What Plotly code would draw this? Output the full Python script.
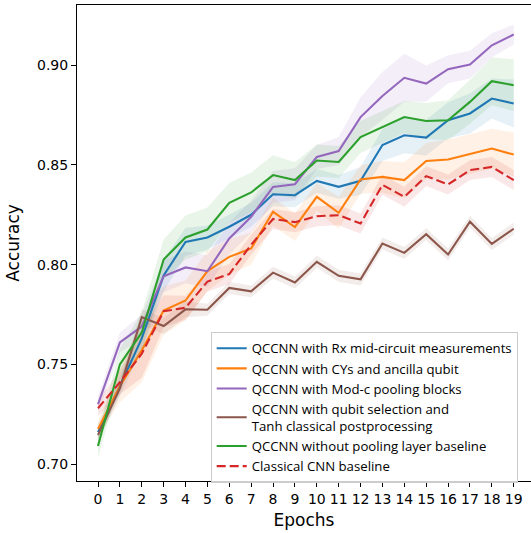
import plotly.graph_objects as go

epochs = list(range(20))
tick_labels = [str(e) for e in epochs]

rx_mean = [0.716, 0.739, 0.763, 0.7946, 0.8114, 0.8136, 0.819, 0.825, 0.8353, 0.8348,
           0.842, 0.839, 0.842, 0.860, 0.8649, 0.8637, 0.8724, 0.8758, 0.8833, 0.8808]
rx_std = [0.004, 0.005, 0.006, 0.008, 0.007, 0.006, 0.006, 0.006, 0.006, 0.006,
          0.006, 0.006, 0.007, 0.008, 0.009, 0.009, 0.009, 0.010, 0.010, 0.012]

cy_mean = [0.7176, 0.739, 0.757, 0.777, 0.782, 0.7968, 0.8039, 0.8081, 0.8265, 0.8188,
           0.834, 0.826, 0.8427, 0.844, 0.8424, 0.852, 0.8527, 0.8554, 0.8582, 0.8552]
cy_std = [0.004, 0.008, 0.016, 0.012, 0.010, 0.010, 0.009, 0.008, 0.007, 0.007,
          0.007, 0.008, 0.007, 0.008, 0.009, 0.009, 0.010, 0.010, 0.010, 0.011]

modc_mean = [0.730, 0.761, 0.769, 0.7942, 0.7986, 0.7967, 0.8131, 0.824, 0.839, 0.8403,
             0.854, 0.857, 0.874, 0.8846, 0.8937, 0.8908, 0.898, 0.9003, 0.910, 0.9154]
modc_std = [0.004, 0.005, 0.006, 0.008, 0.008, 0.008, 0.008, 0.008, 0.008, 0.008,
            0.006, 0.007, 0.010, 0.012, 0.012, 0.009, 0.007, 0.007, 0.006, 0.005]

qsel_mean = [0.7146, 0.738, 0.7737, 0.7692, 0.7776, 0.7774, 0.7883, 0.7866, 0.796, 0.791,
             0.8014, 0.7944, 0.7926, 0.8106, 0.8059, 0.8153, 0.8051, 0.8215, 0.8104, 0.818]
qsel_std = [0.003, 0.003, 0.004, 0.004, 0.004, 0.003, 0.003, 0.003, 0.003, 0.003,
            0.003, 0.003, 0.003, 0.003, 0.003, 0.003, 0.003, 0.003, 0.003, 0.003]

nopool_mean = [0.709, 0.750, 0.766, 0.8026, 0.8136, 0.8176, 0.831, 0.8362, 0.8449, 0.8424,
               0.8522, 0.8515, 0.864, 0.869, 0.874, 0.872, 0.8724, 0.8816, 0.892, 0.890]
nopool_std = [0.006, 0.008, 0.010, 0.010, 0.011, 0.011, 0.010, 0.010, 0.010, 0.009,
              0.008, 0.008, 0.008, 0.008, 0.008, 0.009, 0.010, 0.011, 0.012, 0.013]

cnn_mean = [0.728, 0.741, 0.7553, 0.7766, 0.7784, 0.7915, 0.7953, 0.810, 0.8229, 0.8213,
            0.8243, 0.8248, 0.8206, 0.840, 0.834, 0.8444, 0.8402, 0.8474, 0.849, 0.8424]
cnn_std = [0.004, 0.006, 0.012, 0.008, 0.006, 0.005, 0.005, 0.005, 0.005, 0.005,
           0.005, 0.005, 0.005, 0.005, 0.005, 0.005, 0.005, 0.005, 0.005, 0.005]

y_ticks = [0.70, 0.75, 0.80, 0.85, 0.90]

series = [
    ("QCCNN with Rx mid-circuit measurements", rx_mean, rx_std, (31, 119, 180), "solid"),
    ("QCCNN with CYs and ancilla qubit", cy_mean, cy_std, (255, 127, 14), "solid"),
    ("QCCNN with Mod-c pooling blocks", modc_mean, modc_std, (148, 103, 189), "solid"),
    ("QCCNN with qubit selection and<br>Tanh classical postprocessing", qsel_mean, qsel_std, (140, 86, 75), "solid"),
    ("QCCNN without pooling layer baseline", nopool_mean, nopool_std, (44, 160, 44), "solid"),
    ("Classical CNN baseline", cnn_mean, cnn_std, (214, 39, 40), "9px,4px"),
]

fig = go.Figure()

for name, m, s, c, dash in series:
    upper = [a + b for a, b in zip(m, s)]
    lower = [a - b for a, b in zip(m, s)]
    fig.add_trace(go.Scatter(
        x=epochs + epochs[::-1], y=upper + lower[::-1],
        fill="toself", fillcolor=f"rgba({c[0]},{c[1]},{c[2]},0.11)",
        line=dict(width=0), mode="lines", showlegend=False, hoverinfo="skip"))

for name, m, s, c, dash in series:
    fig.add_trace(go.Scatter(
        x=epochs, y=m, mode="lines", name=name,
        line=dict(color=f"rgb({c[0]},{c[1]},{c[2]})", width=2.1, dash=dash)))

fig.update_layout(
    width=531, height=533,
    margin=dict(l=77, r=0, t=5, b=52, autoexpand=False),
    paper_bgcolor="white", plot_bgcolor="white",
    font=dict(family="DejaVu Sans", size=14, color="black"),
    showlegend=True,
    legend=dict(
        x=0.2945, y=0.3128, xanchor="left", yanchor="top",
        bgcolor="rgba(255,255,255,0.8)", bordercolor="#cccccc", borderwidth=1,
        font=dict(family="Open Sans", size=13.2, color="black"),
        traceorder="normal", tracegroupgap=0,
    ),
    xaxis=dict(
        range=[-0.96, 19.79], tickmode="array", tickvals=epochs, ticktext=tick_labels,
        tickangle=0, showgrid=False, zeroline=False, automargin=False,
        showline=True, linecolor="black", linewidth=1, mirror=True,
        ticks="outside", ticklen=5, tickcolor="black", tickwidth=1,
        title=dict(text="Epochs", standoff=8),
    ),
    yaxis=dict(
        range=[0.6915, 0.9302], tickmode="array", tickvals=y_ticks,
        ticktext=[f"{v:.2f}" for v in y_ticks],
        showgrid=False, zeroline=False, automargin=False,
        showline=True, linecolor="black", linewidth=1,
        ticks="outside", ticklen=5, tickcolor="black", tickwidth=1,
        title=dict(text="Accuracy", standoff=13),
    ),
)

fig.write_html("out.html", config={"displayModeBar": False},
               post_script="document.body.style.margin='0px';")
